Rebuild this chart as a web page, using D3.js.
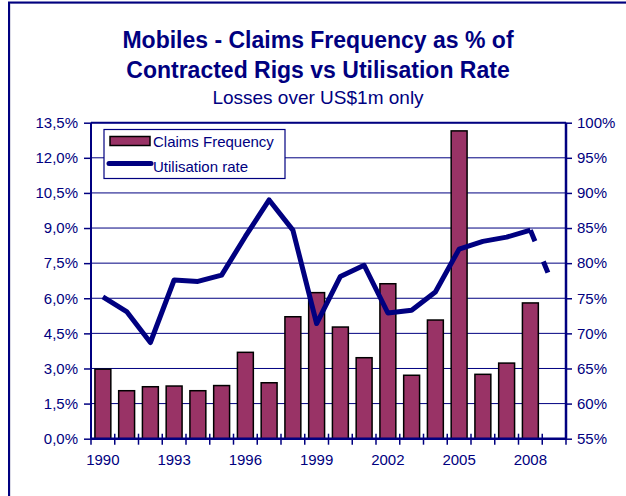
<!DOCTYPE html>
<html>
<head>
<meta charset="utf-8">
<script src="https://cdn.jsdelivr.net/npm/d3@7"></script>
<style>
  body { margin: 0; background: #fff; }
  svg { display: block; font-family: Arial, "Liberation Sans", sans-serif; }
</style>
</head>
<body>
<svg></svg>
<script>
const width = 626
const height = 496

// Data
const years = d3.range(1990, 2010)
const claimsFrequency = [2.97, 2.05, 2.22, 2.25, 2.05, 2.27, 3.69, 2.39, 5.21, 6.24,
    4.77, 3.46, 6.62, 2.71, 5.07, 13.15, 2.75, 3.23, 5.80, null]
const utilisationRate = [75.2, 73.1, 68.7, 77.6, 77.4, 78.3, 83.8, 89.0, 84.7, 71.4,
    78.1, 79.7, 72.9, 73.3, 75.9, 82.0, 83.1, 83.7, 84.7, 76.5]
const leftTicks = d3.range(0, 13.51, 1.5)
const rightTicks = d3.range(55, 100.1, 5)
const yearLabels = [1990, 1993, 1996, 1999, 2002, 2005, 2008]

const navy = "#000080"
const barColor = "#993366"

const svg = d3.select("svg")
    .attr("width", width)
    .attr("height", height)

const margin = { top: 122.7, right: 60, bottom: 57.3, left: 91 }
const innerWidth = width - margin.left - margin.right
const innerHeight = height - margin.top - margin.bottom

// outer frame
svg.append("path")
    .attr("d", `M10,${height + 5} V3.5 H${width + 5}`)
    .attr("fill", "none").attr("stroke", "#b8b8d0").attr("stroke-width", 1)
svg.append("path")
    .attr("d", `M9,${height + 5} V2.5 H${width + 5}`)
    .attr("fill", "none").attr("stroke", navy).attr("stroke-width", 2)

// Titles
const title = svg.append("g").attr("fill", navy).attr("text-anchor", "middle")
title.append("text").attr("x", 318).attr("y", 48)
    .attr("font-size", 23).attr("font-weight", "bold")
    .text("Mobiles - Claims Frequency as % of")
title.append("text").attr("x", 318).attr("y", 78)
    .attr("font-size", 23).attr("font-weight", "bold")
    .text("Contracted Rigs vs Utilisation Rate")
title.append("text").attr("x", 318).attr("y", 104)
    .attr("font-size", 19)
    .text("Losses over US$1m only")

// Scales
const xScale = d3.scaleBand()
    .domain(years)
    .range([0, innerWidth])
    .paddingInner(0.33)
    .paddingOuter(0.165)

const yLeft = d3.scaleLinear().domain([0, 13.5]).range([innerHeight, 0])
const yRight = d3.scaleLinear().domain([55, 100]).range([innerHeight, 0])

const comma = d3.formatLocale({ decimal: ",", thousands: ".", grouping: [3], currency: ["", ""] })
const leftFormat = v => comma.format(".1f")(v) + "%"
const rightFormat = v => d3.format(".0f")(v) + "%"

const g = svg.append("g")
    .attr("transform", `translate(${margin.left}, ${margin.top})`)

// gridlines
g.append("g").selectAll("line").data(leftTicks.slice(1))
    .enter().append("line")
    .attr("x1", 0).attr("x2", innerWidth)
    .attr("y1", d => yLeft(d)).attr("y2", d => yLeft(d))
    .attr("stroke", navy).attr("stroke-width", 1)

// Bars
const barData = years.map((y, i) => ({ year: y, v: claimsFrequency[i] })).filter(d => d.v != null)
g.append("g").selectAll("rect").data(barData)
    .enter().append("rect")
    .attr("x", d => xScale(d.year))
    .attr("y", d => yLeft(d.v))
    .attr("width", xScale.bandwidth())
    .attr("height", d => innerHeight - yLeft(d.v))
    .attr("fill", barColor)
    .attr("stroke", "#000")
    .attr("stroke-width", 1.5)

// Line
const pts = years.map((y, i) => [xScale(y) + xScale.bandwidth() / 2, yRight(utilisationRate[i])])
const line = d3.line()
g.append("path")
    .attr("d", line(pts.slice(0, 19)))
    .attr("fill", "none")
    .attr("stroke", navy)
    .attr("stroke-width", 5)
    .attr("stroke-linejoin", "round")
g.append("path")
    .attr("d", line(pts.slice(18)))
    .attr("fill", "none")
    .attr("stroke", navy)
    .attr("stroke-width", 5)
    .attr("stroke-dasharray", "12,22")

// Axes
const axisStyle = sel => {
    sel.selectAll("text").attr("fill", navy).attr("font-size", 15)
        .attr("font-family", "Arial, 'Liberation Sans', sans-serif")
    sel.selectAll("line").attr("stroke", navy).attr("stroke-width", 1.5)
    sel.select(".domain").remove()
}

const leftAxis = d3.axisLeft(yLeft).tickValues(leftTicks).tickFormat(leftFormat)
    .tickSize(7).tickPadding(6)
g.append("g").call(leftAxis).call(axisStyle)

const rightAxis = d3.axisRight(yRight).tickValues(rightTicks).tickFormat(rightFormat)
    .tickSize(6).tickPadding(5)
g.append("g").attr("transform", `translate(${innerWidth}, 0)`)
    .call(rightAxis).call(axisStyle)

const xAxis = d3.axisBottom(xScale).tickValues(yearLabels).tickSize(0).tickPadding(16)
g.append("g").attr("transform", `translate(0, ${innerHeight})`)
    .call(xAxis).call(axisStyle)

// category boundary tick marks
const half = (xScale.step() - xScale.bandwidth()) / 2
const bounds = years.map(y => xScale(y) - half).concat([xScale(2009) + xScale.bandwidth() + half])
g.append("g").selectAll("line").data(bounds)
    .enter().append("line")
    .attr("x1", d => d).attr("x2", d => d)
    .attr("y1", innerHeight - 5).attr("y2", innerHeight + 6)
    .attr("stroke", navy).attr("stroke-width", 1.5)

// plot frame: axis lines
g.append("line").attr("x1", 0).attr("x2", innerWidth).attr("y1", 0).attr("y2", 0)
    .attr("stroke", navy).attr("stroke-width", 2)
g.append("line").attr("x1", 0).attr("x2", innerWidth).attr("y1", innerHeight).attr("y2", innerHeight)
    .attr("stroke", navy).attr("stroke-width", 2.5)
g.append("line").attr("x1", 0).attr("x2", 0).attr("y1", 0).attr("y2", innerHeight)
    .attr("stroke", navy).attr("stroke-width", 2)
g.append("line").attr("x1", innerWidth).attr("x2", innerWidth).attr("y1", 0).attr("y2", innerHeight)
    .attr("stroke", navy).attr("stroke-width", 2.5)

// Legend
const legend = svg.append("g").attr("transform", "translate(104, 129.5)")
legend.append("rect").attr("width", 181).attr("height", 49)
    .attr("fill", "#fff").attr("stroke", navy).attr("stroke-width", 1.2)
legend.append("rect").attr("x", 6).attr("y", 7).attr("width", 40).attr("height", 9)
    .attr("fill", barColor).attr("stroke", "#000").attr("stroke-width", 1.5)
legend.append("line").attr("x1", 5).attr("x2", 47).attr("y1", 34).attr("y2", 34)
    .attr("stroke", navy).attr("stroke-width", 5).attr("stroke-linecap", "round")
legend.append("text").attr("x", 49).attr("y", 17.5)
    .attr("fill", navy).attr("font-size", 15).text("Claims Frequency")
legend.append("text").attr("x", 49).attr("y", 42.5)
    .attr("fill", navy).attr("font-size", 15).text("Utilisation rate")
</script>
</body>
</html>
